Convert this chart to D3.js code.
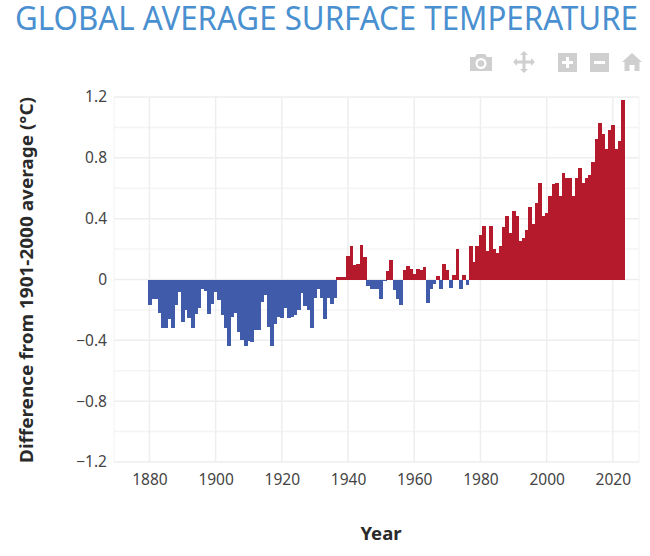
<!DOCTYPE html>
<html>
<head>
<meta charset="utf-8">
<script src="https://cdn.jsdelivr.net/npm/d3@7"></script>
<style>
body { margin: 0; background: #fff; }
svg { display: block; }
text { font-family: "Noto Sans", sans-serif; }
</style>
</head>
<body>
<svg id="chart" width="650" height="556"></svg>
<script>
let firstYear = 1880;
let anomalies = [
	-0.17, -0.13, -0.13, -0.22, -0.32, -0.32, -0.26, -0.32, -0.17, -0.085,
	-0.28, -0.20, -0.25, -0.32, -0.23, -0.19, -0.065, -0.075, -0.23, -0.16,
	-0.085, -0.135, -0.235, -0.32, -0.435, -0.245, -0.22, -0.345, -0.40, -0.44,
	-0.405, -0.41, -0.335, -0.335, -0.145, -0.10, -0.315, -0.44, -0.295, -0.245,
	-0.25, -0.19, -0.25, -0.245, -0.235, -0.20, -0.09, -0.175, -0.20, -0.32,
	-0.12, -0.065, -0.12, -0.26, -0.12, -0.16, -0.12, 0.015, 0.015, 0.015,
	0.155, 0.22, 0.095, 0.105, 0.23, 0.145, -0.04, -0.06, -0.06, -0.06,
	-0.13, -0.01, 0.055, 0.13, -0.07, -0.13, -0.17, 0.06, 0.09, 0.07,
	0.035, 0.07, 0.06, 0.085, -0.155, -0.06, -0.03, 0.025, -0.06, 0.105,
	0.06, -0.055, 0.03, 0.20, -0.06, 0.03, -0.035, 0.22, 0.115, 0.22,
	0.295, 0.35, 0.19, 0.35, 0.20, 0.175, 0.22, 0.345, 0.42, 0.305,
	0.45, 0.42, 0.25, 0.275, 0.325, 0.48, 0.365, 0.505, 0.635, 0.42,
	0.435, 0.55, 0.625, 0.635, 0.55, 0.70, 0.665, 0.665, 0.55, 0.665,
	0.73, 0.635, 0.665, 0.685, 0.77, 0.925, 1.03, 0.955, 0.86, 0.98,
	1.015, 0.86, 0.91, 1.18
];
let xTicks = [1880, 1900, 1920, 1940, 1960, 1980, 2000, 2020];
let yLabelTicks = [-1.2, -0.8, -0.4, 0, 0.4, 0.8, 1.2];
let yGridTicks = [-1.2, -1.0, -0.8, -0.6, -0.4, -0.2, 0, 0.2, 0.4, 0.6, 0.8, 1.0, 1.2];
let titleText = "GLOBAL AVERAGE SURFACE TEMPERATURE";
let xLabel = "Year";
let yLabel = "Difference from 1901-2000 average (°C)";

let plotLeft = 114, plotRight = 639, plotTop = 97, plotBottom = 462;
let svg = d3.select("#chart");

let x = d3.scaleLinear().domain([1869.3, 2027.9]).range([plotLeft, plotRight]);
let y = d3.scaleLinear().domain([-1.2, 1.2]).range([plotBottom, plotTop]);
let barW = x(1881) - x(1880);

// grid
svg.append("g").selectAll("line").data(yGridTicks).enter().append("line")
	.attr("x1", plotLeft).attr("x2", plotRight)
	.attr("y1", (d) => y(d)).attr("y2", (d) => y(d))
	.attr("stroke", (d) => yLabelTicks.includes(d) ? "#eeeeee" : "#f4f4f4")
	.attr("stroke-width", 1.5);
svg.append("g").selectAll("line").data(xTicks).enter().append("line")
	.attr("x1", (d) => x(d)).attr("x2", (d) => x(d))
	.attr("y1", plotTop).attr("y2", plotBottom)
	.attr("stroke", "#eeeeee")
	.attr("stroke-width", 1.5);
svg.append("line").attr("x1", plotLeft).attr("x2", plotLeft).attr("y1", plotTop).attr("y2", plotBottom)
	.attr("stroke", "#f2f2f2").attr("stroke-width", 1);
svg.append("line").attr("x1", plotRight).attr("x2", plotRight).attr("y1", plotTop).attr("y2", plotBottom)
	.attr("stroke", "#f2f2f2").attr("stroke-width", 1);

// bars, crisp edges so no seams show between them
svg.append("g").attr("shape-rendering", "crispEdges").selectAll("rect").data(anomalies).enter().append("rect")
	.attr("x", (d, i) => x(firstYear + i) - barW / 2)
	.attr("width", barW + 0.5)
	.attr("y", (d) => d > 0 ? y(d) : y(0))
	.attr("height", (d) => Math.abs(y(d) - y(0)))
	.attr("fill", (d) => d > 0 ? "#b41a2b" : "#3f5ba9");

// axes
let xAxis = svg.append("g").attr("transform", `translate(0,${plotBottom})`)
	.call(d3.axisBottom(x).tickValues(xTicks).tickFormat(d3.format("d")).tickSize(0).tickPadding(12));
let yAxis = svg.append("g").attr("transform", `translate(${plotLeft},0)`)
	.call(d3.axisLeft(y).tickValues(yLabelTicks)
		.tickFormat((d) => d == 0 ? "0" : d3.format(".1f")(d).replace("-", "\u2212")).tickSize(0).tickPadding(7));
xAxis.select(".domain").remove();
yAxis.select(".domain").remove();
svg.selectAll(".tick text")
	.style("font-family", '"Noto Sans", sans-serif')
	.style("font-size", "15.5px")
	.attr("fill", "#444");

// titles
svg.append("text").attr("x", 15).attr("y", 30)
	.attr("textLength", 623).attr("lengthAdjust", "spacingAndGlyphs")
	.style("font-size", "33px").attr("fill", "#4a90d0").text(titleText);
svg.append("text").attr("x", 381).attr("y", 540).attr("text-anchor", "middle")
	.style("font-size", "18.5px").style("font-weight", "bold").attr("fill", "#2a2a2a").text(xLabel);
svg.append("text").attr("transform", "translate(33,280) rotate(-90)").attr("text-anchor", "middle")
	.attr("textLength", 366).attr("lengthAdjust", "spacingAndGlyphs")
	.style("font-size", "17.5px").style("font-weight", "bold").attr("fill", "#2a2a2a").text(yLabel);

// toolbar icons
let icons = svg.append("g").attr("fill", "#cfcfcf");
let camera = icons.append("g").attr("transform", "translate(470,53)");
camera.append("path").attr("d", "M0 4h5l2-3h8l2 3h5v14H0z");
camera.append("circle").attr("cx", 11).attr("cy", 10.5).attr("r", 5.5).attr("fill", "#fff");
camera.append("circle").attr("cx", 11).attr("cy", 10.5).attr("r", 3.3);
icons.append("path").attr("transform", "translate(524,62)")
	.attr("d", "M0-11l4 4h-2.500v5.500H7V-4l4 4-4 4V1.500H1.500V7H4l-4 4-4-4h2.500V1.500H-7V4l-4-4 4-4v2.500h5.500V-7H-4z");
icons.append("path").attr("fill-rule", "evenodd")
	.attr("d", "M558 53h19v19h-19zM566 57v4h-4v3h4v4h3v-4h4v-3h-4v-4z");
icons.append("path").attr("fill-rule", "evenodd")
	.attr("d", "M590 53h19v19h-19zM594 61v3h11v-3z");
icons.append("path").attr("d", "M632 53l10 9h-2.500v9h-5v-6h-5v6h-5v-9H622z");
</script>
</body>
</html>
